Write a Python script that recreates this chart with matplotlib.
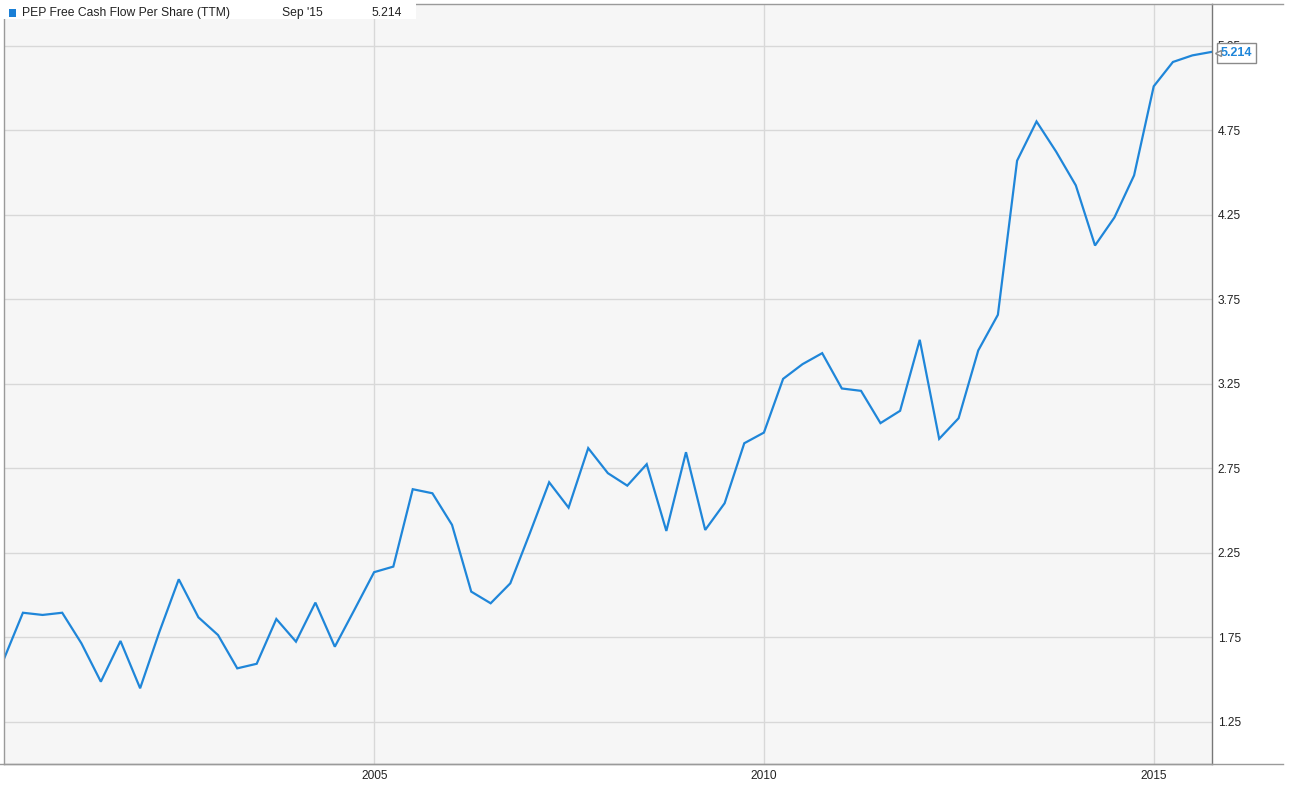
import pandas as pd
import matplotlib
matplotlib.use('Agg')
import matplotlib.pyplot as plt
import matplotlib.dates as mdates
import matplotlib.transforms as mtransforms
from matplotlib.patches import Rectangle
from matplotlib.lines import Line2D

plt.rcParams['font.family'] = ['Liberation Sans', 'DejaVu Sans']

# quarterly free cash flow per share (TTM), Mar 2000 .. Sep 2015
quarters = pd.date_range('2000-03-31', '2015-09-30', freq='QE')
fcf_per_share = [
    1.615, 1.895, 1.882, 1.895, 1.714, 1.487, 1.728, 1.448, 1.781, 2.093,
    1.868, 1.763, 1.566, 1.593, 1.858, 1.724, 1.955, 1.694, 1.913, 2.135,
    2.168, 2.626, 2.602, 2.415, 2.020, 1.951, 2.069, 2.367, 2.667, 2.517,
    2.869, 2.721, 2.647, 2.774, 2.379, 2.845, 2.385, 2.543, 2.898, 2.961,
    3.279, 3.366, 3.431, 3.222, 3.208, 3.017, 3.090, 3.510, 2.924, 3.046,
    3.447, 3.658, 4.570, 4.802, 4.623, 4.424, 4.068, 4.234, 4.483, 5.010,
    5.154, 5.193, 5.214,
]
yticks = [1.25, 1.75, 2.25, 2.75, 3.25, 3.75, 4.25, 4.75, 5.25]
series_name = 'PEP Free Cash Flow Per Share (TTM)'
last_label = "Sep '15"

W, H = 1292, 790
line_color = '#1f86d9'

fig = plt.figure(figsize=(W / 100, H / 100), dpi=100)
ax = fig.add_axes([3.5 / W, 1 - 764 / H, (1212 - 3.5) / W, (764 - 3.5) / H])
ax.set_facecolor('#f6f6f6')

ax.plot(quarters, fcf_per_share, color=line_color, lw=1.6, solid_joinstyle='miter')

ax.set_xlim(quarters[0], quarters[-1])
ax.set_ylim(1.0, 5.5)

ax.xaxis.set_major_locator(mdates.YearLocator(5))
ax.xaxis.set_major_formatter(mdates.DateFormatter('%Y'))
ax.set_yticks(yticks)
ax.set_yticklabels(['%.2f' % t for t in yticks])
ax.yaxis.tick_right()
ax.tick_params(axis='both', length=0, labelsize=8.6, colors='#222222')
ax.tick_params(axis='y', pad=4)
ax.tick_params(axis='x', pad=4)
ax.grid(True, color='#d8d8d8', lw=1.0)
ax.set_axisbelow(True)

for side in ['left', 'bottom', 'top']:
    ax.spines[side].set_color('#9a9a9a')
    ax.spines[side].set_linewidth(1.0)
ax.spines['right'].set_color('#777777')
ax.spines['right'].set_linewidth(1.0)

# outer frame lines continue past the value axis
fig.add_artist(Line2D([1212 / W, 1283 / W], [1 - 3.5 / H] * 2, color='#9a9a9a', lw=1.0))
fig.add_artist(Line2D([0, 1283 / W], [1 - 764 / H] * 2, color='#9a9a9a', lw=1.0))

# last value tag (sits over the top tick label, as in the source chart)
shift = mtransforms.ScaledTranslation(4 / 72, -1 / 72, fig.dpi_scale_trans)
ax.plot([quarters[-1]], [fcf_per_share[-1]], marker='<', ms=5, mfc='white', mec='#8a8a8a',
        mew=1.0, clip_on=False, zorder=11, transform=ax.transData + shift)
ax.annotate('%.3f' % fcf_per_share[-1], xy=(quarters[-1], fcf_per_share[-1]),
            xycoords='data', xytext=(6.5, -1), textcoords='offset points',
            ha='left', va='center', fontsize=9.0, fontweight='bold', color=line_color,
            bbox=dict(boxstyle='square,pad=0.3', fc='white', ec='#8a8a8a', lw=1.0),
            annotation_clip=False, zorder=10)

# legend strip at the top
fig.add_artist(Rectangle((0, 1 - 19 / H), 416 / W, 19 / H, transform=fig.transFigure,
                         fc='white', ec='none', zorder=5))
fig.add_artist(Rectangle((8.5 / W, 1 - 16.5 / H), 7 / W, 7 / H, transform=fig.transFigure,
                         fc='#1a7fd6', ec='none', zorder=6))
ty = 1 - 13 / H
fig.text(22.5 / W, ty, series_name, fontsize=8.7, va='center', ha='left', color='#222222', zorder=7)
fig.text(282.5 / W, ty, last_label, fontsize=8.7, va='center', ha='left', color='#222222', zorder=7)
fig.text(371.5 / W, ty, '%.3f' % fcf_per_share[-1], fontsize=8.7, va='center', ha='left',
         color='#222222', zorder=7)

fig.savefig('out.png', dpi=100, facecolor='white')
